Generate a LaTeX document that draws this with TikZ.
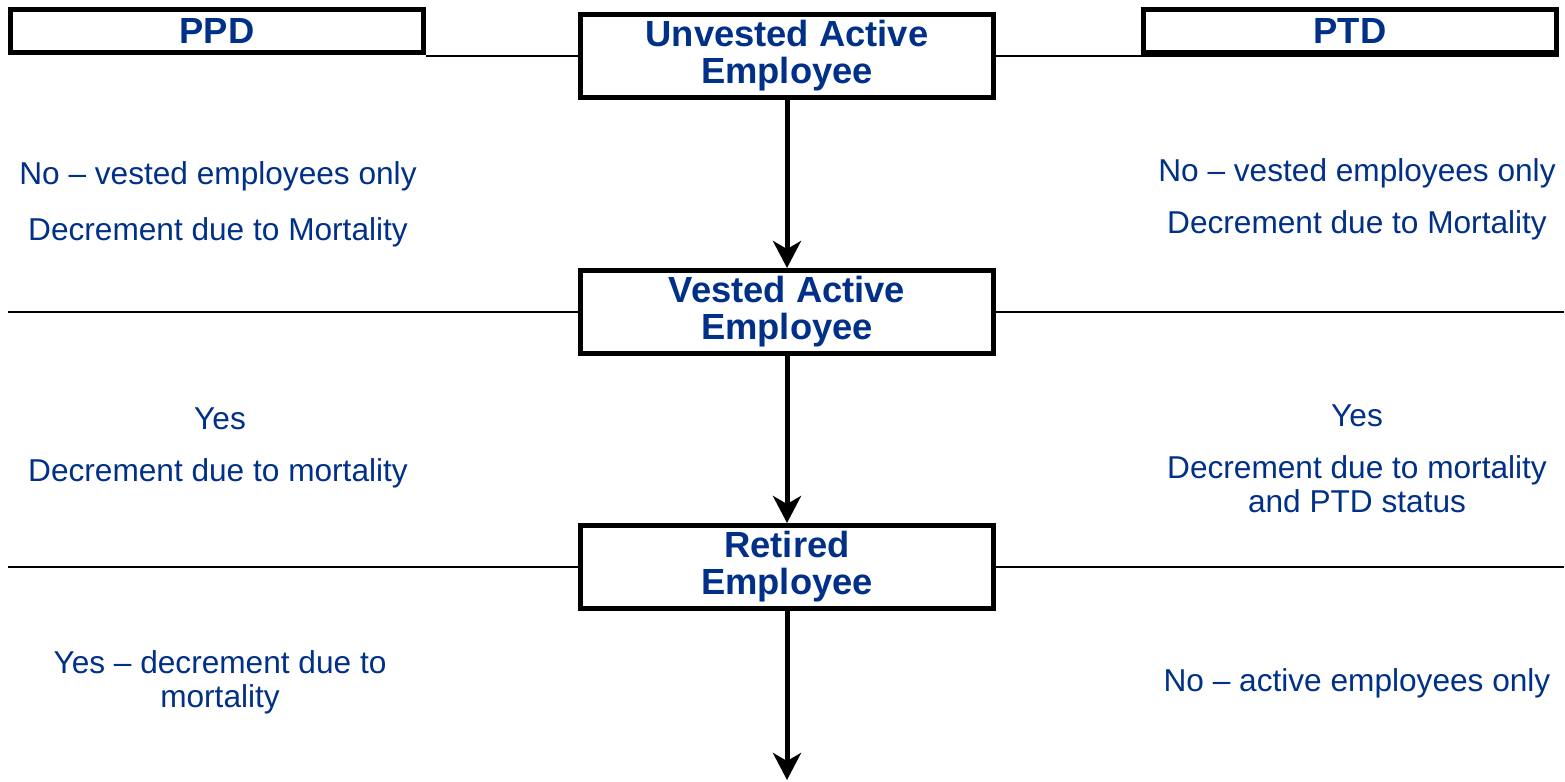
\documentclass[tikz,border=0pt]{standalone}
\usepackage{fontspec}
\setmainfont{Liberation Sans}
\usetikzlibrary{arrows.meta}
\definecolor{txtblue}{RGB}{0,48,135}

\begin{document}
\begin{tikzpicture}[x=0.02cm,y=-0.02cm,
  head/.style={draw,line width=0.1cm,minimum width=8.26cm,minimum height=0.88cm,
    inner sep=0pt,text=txtblue,font=\fontsize{20.7}{21}\selectfont\bfseries},
  state/.style={head,minimum height=1.66cm,align=center},
  note/.style={anchor=base,inner sep=0pt,align=center,text=txtblue,
    font=\fontsize{18}{19.3}\selectfont},
  flow/.style={line width=0.1cm,-{Stealth[length=0.54cm,width=0.56cm,inset=0.16cm]}},
  rule/.style={line width=0.03cm}]
\useasboundingbox (0,0) rectangle (1565,781);

\node (ppd) [head] at (217,31) {PPD};
\node (ptd) [head] at (1350,31) {PTD};
\node (uae) [state] at (787,56) {Unvested Active\\Employee};
\node (vae) [state] at (787,312) {Vested Active\\Employee};
\node (rea) [state] at (787,567) {Retired\\Employee};

\coordinate (lm) at (8,0);
\coordinate (rm) at (1564,0);
\coordinate (out) at (787,780);

\draw[rule] (uae.west) -- (uae.west -| ppd.east);
\draw[rule] (uae.east) -- (uae.east -| ptd.east);
\draw[rule] (vae.west) -- (vae.west -| lm);
\draw[rule] (vae.east) -- (vae.east -| rm);
\draw[rule] (rea.west) -- (rea.west -| lm);
\draw[rule] (rea.east) -- (rea.east -| rm);

\draw[flow] (uae.south) -- (vae.north);
\draw[flow] (vae.south) -- (rea.north);
\draw[flow] (rea.south) -- (out);

\node (pvu) [note] at (218,184) {No -- vested employees only};
\node (pmu) [note] at (218,240) {Decrement due to Mortality};
\node (pyv) [note] at (220,429) {Yes};
\node (pmv) [note] at (218,481) {Decrement due to mortality};
\node (pmr) [note] at (220,707) {Yes -- decrement due to\\mortality};

\node (tvu) [note] at (1357,181) {No -- vested employees only};
\node (tmu) [note] at (1357,233) {Decrement due to Mortality};
\node (tyv) [note] at (1357,426) {Yes};
\node (tmv) [note] at (1357,512) {Decrement due to mortality\\and PTD status};
\node (tar) [note] at (1357,691) {No -- active employees only};
\end{tikzpicture}
\end{document}
